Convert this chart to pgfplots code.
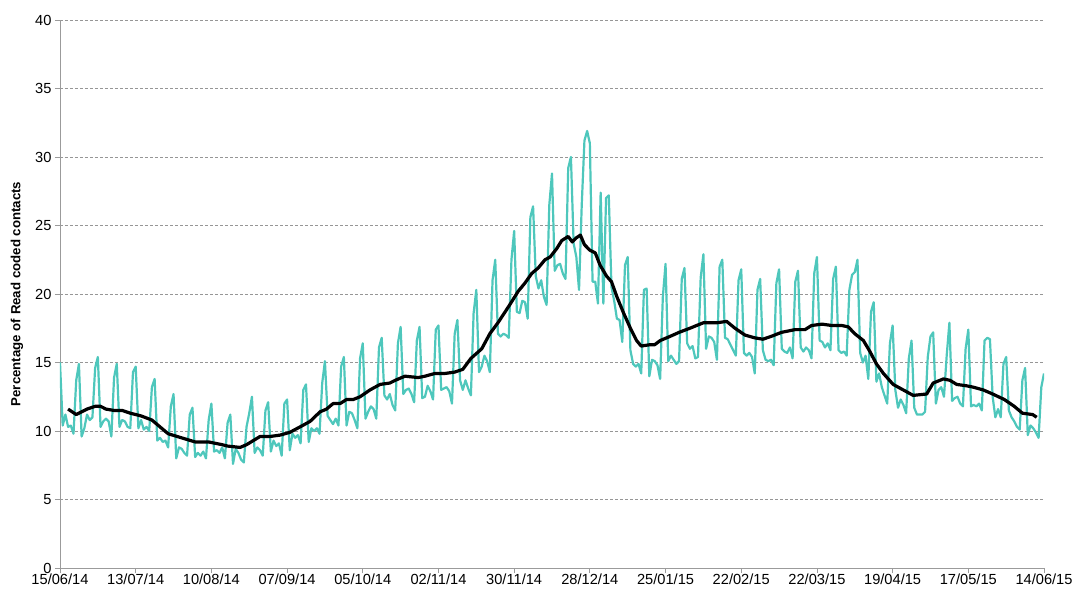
\documentclass[border=0pt]{standalone}
\usepackage{pgfplots}
\pgfplotsset{compat=1.18}
\usepackage{fontspec}
\setmainfont{Liberation Sans}
\definecolor{tealline}{RGB}{78,199,188}
\definecolor{gridgray}{RGB}{150,150,150}
\definecolor{axisgray}{RGB}{155,155,155}
\begin{document}
\begin{tikzpicture}
\useasboundingbox (-60bp,-26bp) rectangle (1016bp,568bp);
\begin{axis}[
  at={(0,0)}, anchor=south west,
  scale only axis, width=984bp, height=548bp,
  xmin=0, xmax=364, ymin=0, ymax=40,
  axis x line*=bottom, axis y line*=left,
  axis line style={axisgray, line width=0.8bp, -},
  xtick={0,28,...,364},
  xticklabels={15/06/14,13/07/14,10/08/14,07/09/14,05/10/14,02/11/14,30/11/14,28/12/14,25/01/15,22/02/15,22/03/15,19/04/15,17/05/15,14/06/15},
  ytick={0,5,...,40},
  tick align=outside,
  major tick length=5bp,
  tick style={axisgray, line width=0.8bp},
  ymajorgrids, grid style={gridgray, dash pattern=on 3bp off 2bp, line width=0.7bp},
  ticklabel style={font=\fontsize{14.7}{16}\selectfont},
  xticklabel style={yshift=2.5bp},
  /pgf/number format/assume math mode=true,
  ylabel={Percentage of Read coded contacts},
  ylabel style={at={(axis description cs:0,0.5)}, anchor=center, yshift=43bp, font=\fontsize{13.3}{15}\selectfont\bfseries},
]
\addplot[tealline, line width=2.2bp, line join=round, mark=none] coordinates {
(0,15.0)
(1,10.4)(2,11.2)(3,10.3)(4,10.4)(5,9.8)(6,13.7)(7,14.9)
(8,9.6)(9,10.2)(10,11.2)(11,10.8)(12,11.0)(13,14.6)(14,15.4)
(15,10.3)(16,10.7)(17,10.9)(18,10.7)(19,9.6)(20,13.9)(21,14.9)
(22,10.3)(23,10.8)(24,10.7)(25,10.3)(26,10.2)(27,14.3)(28,14.7)
(29,10.2)(30,10.8)(31,10.1)(32,10.3)(33,10.0)(34,13.2)(35,13.8)
(36,9.3)(37,9.5)(38,9.2)(39,9.3)(40,8.8)(41,11.8)(42,12.7)
(43,8.0)(44,8.8)(45,8.7)(46,8.4)(47,8.2)(48,11.2)(49,11.7)
(50,8.1)(51,8.4)(52,8.2)(53,8.5)(54,8.0)(55,10.8)(56,12.0)
(57,8.5)(58,8.6)(59,8.4)(60,8.8)(61,8.0)(62,10.6)(63,11.2)
(64,7.6)(65,8.7)(66,8.4)(67,7.9)(68,7.7)(69,10.3)(70,11.3)
(71,12.5)(72,8.4)(73,8.8)(74,8.6)(75,8.2)(76,11.5)(77,12.1)
(78,8.5)(79,9.3)(80,8.9)(81,9.1)(82,8.2)(83,12.0)(84,12.3)
(85,8.6)(86,9.8)(87,9.5)(88,9.7)(89,9.1)(90,13.0)(91,13.4)
(92,9.2)(93,10.2)(94,10.0)(95,10.2)(96,9.8)(97,13.5)(98,15.1)
(99,11.1)(100,10.8)(101,10.5)(102,10.9)(103,10.4)(104,14.7)(105,15.4)
(106,10.4)(107,11.4)(108,11.3)(109,10.8)(110,10.2)(111,15.3)(112,16.4)
(113,10.9)(114,11.4)(115,11.8)(116,11.6)(117,10.9)(118,16.1)(119,16.8)
(120,12.6)(121,12.3)(122,12.7)(123,11.9)(124,11.5)(125,16.4)(126,17.6)
(127,12.7)(128,13.0)(129,13.1)(130,12.7)(131,12.1)(132,16.6)(133,17.6)
(134,12.4)(135,12.5)(136,13.3)(137,12.9)(138,12.3)(139,17.4)(140,17.7)
(141,13.0)(142,13.1)(143,13.2)(144,12.9)(145,12.0)(146,17.1)(147,18.1)
(148,13.7)(149,13.0)(150,13.7)(151,13.1)(152,12.6)(153,18.6)(154,20.3)
(155,14.3)(156,14.7)(157,15.5)(158,15.1)(159,14.3)(160,21.0)(161,22.5)
(162,17.1)(163,16.9)(164,17.1)(165,17.0)(166,16.8)(167,22.5)(168,24.6)
(169,18.7)(170,18.6)(171,19.5)(172,19.4)(173,18.2)(174,25.6)(175,26.4)
(176,21.3)(177,20.4)(178,21.0)(179,19.8)(180,19.2)(181,26.5)(182,28.8)
(183,21.7)(184,22.1)(185,22.2)(186,21.5)(187,21.1)(188,29.2)(189,30.0)
(190,23.7)(191,22.7)(192,20.3)(193,26.5)(194,31.2)(195,31.9)(196,31.0)
(197,20.9)(198,20.9)(199,19.3)(200,27.4)(201,19.3)(202,27.0)(203,27.2)
(204,20.5)(205,19.5)(206,18.2)(207,18.1)(208,16.5)(209,22.1)(210,22.7)
(211,15.9)(212,14.9)(213,14.7)(214,14.9)(215,14.2)(216,20.3)(217,20.4)
(218,14.0)(219,15.2)(220,15.1)(221,14.8)(222,13.8)(223,19.8)(224,22.2)
(225,15.1)(226,15.5)(227,15.2)(228,14.9)(229,15.1)(230,21.1)(231,21.9)
(232,16.4)(233,16.0)(234,16.2)(235,15.3)(236,15.4)(237,21.2)(238,22.9)
(239,16.0)(240,16.9)(241,16.8)(242,16.5)(243,15.2)(244,22.0)(245,22.5)
(246,16.8)(247,16.7)(248,16.3)(249,15.9)(250,15.5)(251,21.0)(252,21.8)
(253,15.7)(254,15.5)(255,15.7)(256,15.4)(257,14.2)(258,20.3)(259,21.1)
(260,15.9)(261,15.2)(262,15.1)(263,15.2)(264,14.8)(265,20.8)(266,21.8)
(267,16.0)(268,15.8)(269,15.7)(270,16.1)(271,15.3)(272,20.9)(273,21.7)
(274,16.1)(275,15.8)(276,16.1)(277,15.9)(278,15.3)(279,21.5)(280,22.7)
(281,16.6)(282,16.5)(283,16.1)(284,16.4)(285,15.9)(286,21.1)(287,22.0)
(288,15.9)(289,15.7)(290,15.8)(291,15.5)(292,20.3)(293,21.4)(294,21.6)
(295,22.5)(296,15.7)(297,15.0)(298,15.5)(299,13.8)(300,18.7)(301,19.4)
(302,13.6)(303,14.2)(304,13.2)(305,12.6)(306,12.0)(307,16.4)(308,17.7)
(309,13.0)(310,11.7)(311,12.3)(312,11.9)(313,11.3)(314,15.3)(315,16.6)
(316,11.7)(317,11.2)(318,11.2)(319,11.2)(320,11.4)(321,15.4)(322,16.9)
(323,17.2)(324,12.0)(325,13.0)(326,13.2)(327,12.5)(328,15.5)(329,17.9)
(330,12.2)(331,12.4)(332,12.5)(333,12.0)(334,11.8)(335,16.0)(336,17.4)
(337,11.8)(338,11.9)(339,11.8)(340,12.0)(341,11.5)(342,16.6)(343,16.8)
(344,16.7)(345,12.5)(346,11.0)(347,11.6)(348,11.0)(349,14.9)(350,15.4)
(351,11.5)(352,11.0)(353,10.7)(354,10.3)(355,10.1)(356,13.7)(357,14.6)
(358,9.7)(359,10.4)(360,10.2)(361,9.9)(362,9.5)(363,13.2)(364,14.2)
};
\addplot[black, line width=3.2bp, line join=round, mark=none] coordinates {
(3,11.6)(6,11.2)(10,11.6)(13,11.8)(15,11.8)(17,11.6)(20,11.5)(23,11.5)(26,11.3)
(30,11.1)(34,10.8)(37,10.3)(40,9.8)(45,9.5)(50,9.2)(55,9.2)(60,9.0)(62,8.9)
(66.6,8.8)(69,9.0)(71.5,9.3)(74,9.6)(77.7,9.6)(81.4,9.7)(85,9.9)(88.8,10.3)
(92.5,10.7)(96.2,11.4)(98.6,11.6)(101,12.0)(103.6,12.0)(106,12.3)(108.5,12.3)
(111,12.5)(114.7,13.0)(118.4,13.4)(122,13.5)(124,13.7)(127.6,14.0)(132.5,13.9)
(135,14.0)(138.7,14.2)(142.4,14.2)(146,14.3)(149,14.5)(152,15.3)(156,16.0)
(159,17.1)(162,17.9)(166,19.1)(169.5,20.2)(172,20.8)(174.5,21.5)(176.9,21.9)
(179.4,22.5)(181.3,22.7)(183.7,23.3)(185.6,23.9)(188,24.2)(189.5,23.8)(191,24.1)
(192.5,24.3)(194,23.6)(196,23.2)(198,23.0)(199.8,22.1)(202.2,21.3)(204,20.9)
(206,19.8)(208.5,18.6)(211,17.5)(213.3,16.6)(215,16.2)(218.3,16.3)(220,16.3)
(222,16.6)(225.6,16.9)(229,17.2)(233,17.5)(238,17.9)(243,17.9)(246.6,18.0)
(249.7,17.5)(253.4,17.0)(257,16.8)(260,16.7)(263,16.9)(266.9,17.2)(271.9,17.4)
(275.6,17.4)(278,17.7)(281.9,17.8)(285.5,17.7)(289.2,17.7)(291.6,17.6)(294,17.1)
(297.2,16.6)(299.6,15.8)(302,14.9)(304.6,14.2)(308.2,13.4)(311.9,13.0)(315.6,12.6)
(320.6,12.7)(323,13.5)(326.8,13.8)(329.2,13.7)(331.7,13.4)(335.3,13.3)(337.8,13.2)
(341.5,13.0)(345,12.7)(349.3,12.3)(353,11.8)(356,11.3)(359.8,11.2)(361.3,11.0)
};
\end{axis}
\end{tikzpicture}
\end{document}
